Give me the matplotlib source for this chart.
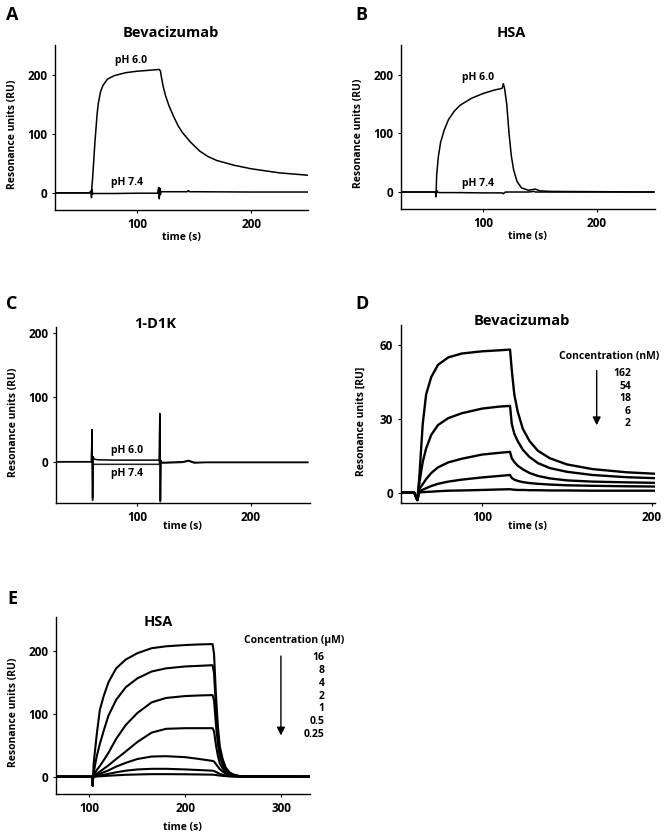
import matplotlib
matplotlib.use('Agg')
import matplotlib.pyplot as plt

plt.rcParams['font.family'] = ['Open Sans', 'DejaVu Sans']
plt.rcParams['font.weight'] = 'bold'
plt.rcParams['axes.labelweight'] = 'bold'

# ---- A: Bevacizumab, pH 6.0 vs 7.4 ----
a_t60 = [28, 59.5, 60, 61, 62, 63, 64, 65, 66, 68, 70, 74, 80, 90, 100, 110, 119.5,
         120.5, 121.5, 123, 125, 128, 132, 136, 140, 147, 155, 162, 170, 185, 200, 225, 250]
a_v60 = [0, 0, 2, 25, 55, 85, 110, 135, 152, 172, 182, 193, 199, 204, 206.5, 208, 209.5,
         207, 195, 180, 165, 148, 130, 114, 102, 86, 71, 62, 55, 47, 41, 34, 30]
a_t74 = [28, 58, 59.5, 60, 60.5, 61, 62, 80, 100, 118, 119, 119.5, 120, 120.5, 121, 125,
         144, 145, 146, 150, 200, 250]
a_v74 = [0, 0, 3, -8, 6, -2, -1, -1, -0.5, -0.5, 9, -10, 8, -3, 2, 2, 2, 4, 2, 2, 1.5, 1.5]

# ---- B: HSA, pH 6.0 vs 7.4 ----
b_t60 = [28, 58.5, 59, 59.5, 61, 63, 66, 70, 75, 80, 90, 100, 110, 117, 118, 119, 121,
         123, 125, 127, 130, 134, 140, 146, 150, 160, 250]
b_v60 = [0, 0, -8, 28, 60, 85, 105, 124, 138, 148, 160, 168, 174, 177, 185, 178, 150,
         100, 62, 38, 18, 7, 3, 5, 2, 1, 0]
b_t74 = [28, 58.5, 59, 59.5, 60, 62, 80, 100, 117, 118, 119, 120, 125, 140, 145, 146, 150, 250]
b_v74 = [0, 0, -8, 3, 0, -1, -1, -1.5, -1.5, -3, -1, 0, 0, 0, 1, 0, 0, 0]

# ---- C: 1-D1K, pH 6.0 vs 7.4 ----
c_t = [28, 59.5, 60, 60.5, 61, 61.5, 62, 65, 80, 100, 118, 119.3, 119.7, 120.2, 120.6,
       121, 125, 140, 145, 150, 160, 250]
c_v60 = [0, 0, 50, -56, 8, 4, 4, 3, 2.5, 2.5, 2.5, 2.5, 75, -60, 2, -1, -1, 0, 2, -1, -1, -1]
c_v74 = [0, 0, 45, -60, -4, -4, -4, -4, -4, -4, -4, -4, 70, -62, -3, -2, -2, -1, 1, -2, -1, -1]

# ---- D: Bevacizumab concentration series (nM) ----
d_time = [52, 60, 61.8, 63, 65, 67, 70, 74, 80, 88, 100, 110, 116.5, 117.5, 119, 121,
          124, 128, 133, 140, 150, 165, 185, 202]
d_162 = [0, 0, -3, 6.5, 28, 40, 47, 52, 55, 56.6, 57.5, 57.9, 58.2, 50, 40, 33, 26, 21,
         17, 14, 11.5, 9.6, 8.3, 7.7]
d_54 = [0, 0, -3, 4, 12.5, 18, 23.5, 27.5, 30.3, 32.3, 34.2, 35, 35.3, 28, 24, 21, 17.5,
        14.5, 12, 10, 8.5, 7.2, 6.3, 5.9]
d_18 = [0, 0, -3, 1.5, 3.5, 5.5, 8, 10.3, 12.3, 13.8, 15.5, 16.2, 16.6, 14, 12.5, 11,
        9.5, 8, 6.8, 5.8, 5, 4.5, 4.2, 4]
d_6 = [0, 0, -3, 0.5, 1.2, 1.8, 2.7, 3.6, 4.5, 5.3, 6.2, 6.8, 7.2, 6, 5.3, 4.8, 4.3, 3.9,
       3.6, 3.3, 3, 2.8, 2.6, 2.5]
d_2 = [0, 0, -3, 0.1, 0.2, 0.3, 0.4, 0.6, 0.8, 0.9, 1.1, 1.3, 1.4, 1.3, 1.2, 1.1, 1.1, 1.0,
       1.0, 0.9, 0.9, 0.8, 0.8, 0.8]
d_labels = ['162', '54', '18', '6', '2']

# ---- E: HSA concentration series (uM) ----
e_time = [65, 103, 103.5, 104, 104.5, 106, 108, 111, 115, 120, 128, 138, 150, 165, 180,
          200, 215, 228.5, 230, 232, 234, 236, 239, 242, 246, 250, 256, 265, 330]
e_16 = [0, 0, -14, 0, 20, 42, 70, 106, 128, 150, 172, 186, 196, 204, 207, 209, 210, 210.5,
        195, 130, 80, 48, 28, 15, 7, 3.5, 1.2, 0.3, 0]
e_8 = [0, 0, -14, 0, 5, 18, 34, 52, 73, 97, 122, 142, 156, 167, 172, 175, 176, 177,
       164, 110, 68, 41, 24, 13, 6, 3, 1, 0.3, 0]
e_4 = [0, 0, -14, 0, 2, 6, 11, 17, 26, 38, 60, 82, 101, 118, 125, 128, 129, 129.5,
       121, 82, 52, 32, 19, 10, 5, 2.5, 0.8, 0.2, 0]
e_2 = [0, 0, -14, 0, 1, 3, 5, 8, 12.5, 18, 28, 40, 55, 70, 76, 77, 77, 77,
       72, 50, 33, 21, 13, 7, 3.5, 2, 0.7, 0.2, 0]
e_1 = [0, 0, -14, 0, 0.5, 1.5, 2.5, 4.5, 7, 10, 16, 22, 28, 32, 32.5, 31, 28, 25,
       24, 20, 16, 12, 8, 5, 2.5, 1.3, 0.5, 0.1, 0]
e_05 = [0, 0, -14, 0, 0.2, 0.5, 1, 1.8, 3, 4.5, 7, 9.5, 11.5, 12.5, 12.5, 11.5, 10.5, 9.5,
        9, 7.5, 6, 4.5, 3, 2, 1, 0.5, 0.2, 0, 0]
e_025 = [0, 0, -14, 0, 0.1, 0.2, 0.4, 0.7, 1, 1.5, 2.2, 3, 3.5, 4, 4, 3.8, 3.5, 3.2,
         3, 2.6, 2.2, 1.8, 1.3, 0.9, 0.5, 0.3, 0.1, 0, 0]
e_labels = ['16', '8', '4', '2', '1', '0.5', '0.25']

W, H = 670, 840
fig = plt.figure(figsize=(6.7, 8.4), dpi=100)


def make_ax(left, top, right, bottom):
    ax = fig.add_axes([left / W, 1 - bottom / H, (right - left) / W, (bottom - top) / H])
    for s in ['top', 'right']:
        ax.spines[s].set_visible(False)
    for s in ['left', 'bottom']:
        ax.spines[s].set_linewidth(1.0)
    ax.tick_params(length=2.5, width=0.8, labelsize=8.5, pad=3)
    return ax


def finish(ax, ylab, ylx, xly):
    ax.set_ylabel(ylab, fontsize=7.5, fontweight='bold')
    ax.yaxis.set_label_coords(ylx, 0.46)
    ax.set_xlabel('time (s)', fontsize=7.5, fontweight='bold')
    ax.xaxis.set_label_coords(0.5, xly)
    for lab in ax.get_xticklabels() + ax.get_yticklabels():
        lab.set_fontweight('bold')


def letter(x, y, s):
    fig.text(x / W, 1 - y / H, s, ha='center', va='center', fontsize=13, fontweight='bold')


def title(x, y, s):
    fig.text(x / W, 1 - y / H, s, ha='center', va='center', fontsize=10.5, fontweight='bold')


lw = 1.1
# A
axA = make_ax(55, 45, 308, 210)
axA.plot(a_t74, a_v74, color='black', lw=lw)
axA.plot(a_t60, a_v60, color='black', lw=lw)
axA.set_xlim(28, 250)
axA.set_ylim(-29, 251)
axA.set_xticks([100, 200])
axA.set_yticks([0, 100, 200])
axA.text(95, 225, 'pH 6.0', ha='center', va='center', fontsize=7.5, fontweight='bold')
axA.text(91, 17, 'pH 7.4', ha='center', va='center', fontsize=7.5, fontweight='bold')
finish(axA, 'Resonance units (RU)', -0.146, -0.135)
title(171, 33, 'Bevacizumab')
letter(12, 15, 'A')

# B
axB = make_ax(400.7, 45, 655, 209)
axB.plot(b_t74, b_v74, color='black', lw=lw)
axB.plot(b_t60, b_v60, color='black', lw=lw)
axB.set_xlim(28, 251)
axB.set_ylim(-29, 251)
axB.set_xticks([100, 200])
axB.set_yticks([0, 100, 200])
axB.text(95.6, 195, 'pH 6.0', ha='center', va='center', fontsize=7.5, fontweight='bold')
axB.text(95.6, 15, 'pH 7.4', ha='center', va='center', fontsize=7.5, fontweight='bold')
finish(axB, 'Resonance units (RU)', -0.146, -0.135)
title(511, 33, 'HSA')
letter(361, 15, 'B')

# C
axC = make_ax(55.7, 327, 310, 503)
axC.plot(c_t, c_v74, color='#222222', lw=lw)
axC.plot(c_t, c_v60, color='black', lw=lw)
axC.set_xlim(28, 252)
axC.set_ylim(-64, 209)
axC.set_xticks([100, 200])
axC.set_yticks([0, 100, 200])
axC.text(91, 18, 'pH 6.0', ha='center', va='center', fontsize=7.5, fontweight='bold')
axC.text(91, -19, 'pH 7.4', ha='center', va='center', fontsize=7.5, fontweight='bold')
finish(axC, 'Resonance units (RU)', -0.146, -0.1)
title(155, 324, '1-D1K')
letter(12, 304, 'C')

# D
axD = make_ax(400.7, 325, 655, 503)
for series in [d_2, d_6, d_18, d_54, d_162]:
    axD.plot(d_time, series, color='black', lw=1.7)
axD.set_xlim(52, 202)
axD.set_ylim(-4.2, 68.2)
axD.set_xticks([100, 200])
axD.set_yticks([0, 30, 60])
axD.text(174.8, 55.5, 'Concentration (nM)', ha='center', va='center', fontsize=7.5, fontweight='bold')
for i, lab in enumerate(d_labels):
    axD.text(187.8, 48.4 - i * 5.06, lab, ha='right', va='center', fontsize=7.5, fontweight='bold')
axD.annotate('', xy=(167.6, 26.3), xytext=(167.6, 50.8),
             arrowprops=dict(arrowstyle='-|>', color='black', lw=1.0, mutation_scale=12))
finish(axD, 'Resonance units [RU]', -0.133, -0.1)
title(522, 321, 'Bevacizumab')
letter(362, 304, 'D')

# E
axE = make_ax(55.7, 616.7, 310, 794)
for series in [e_025, e_05, e_1, e_2, e_4, e_8, e_16]:
    axE.plot(e_time, series, color='black', lw=1.5)
axE.set_xlim(65, 330)
axE.set_ylim(-27.5, 254)
axE.set_xticks([100, 200, 300])
axE.set_yticks([0, 100, 200])
axE.text(313, 216, 'Concentration (\u03bcM)', ha='center', va='center', fontsize=7.5, fontweight='bold')
for i, lab in enumerate(e_labels):
    axE.text(345.5, 189.5 - i * 20.5, lab, ha='right', va='center', fontsize=7.5,
             fontweight='bold', clip_on=False)
axE.annotate('', xy=(299.7, 61), xytext=(299.7, 196),
             arrowprops=dict(arrowstyle='-|>', color='black', lw=1.0, mutation_scale=12))
finish(axE, 'Resonance units (RU)', -0.146, -0.16)
title(158, 622, 'HSA')
letter(12, 599, 'E')

fig.savefig('out.png', dpi=100)
